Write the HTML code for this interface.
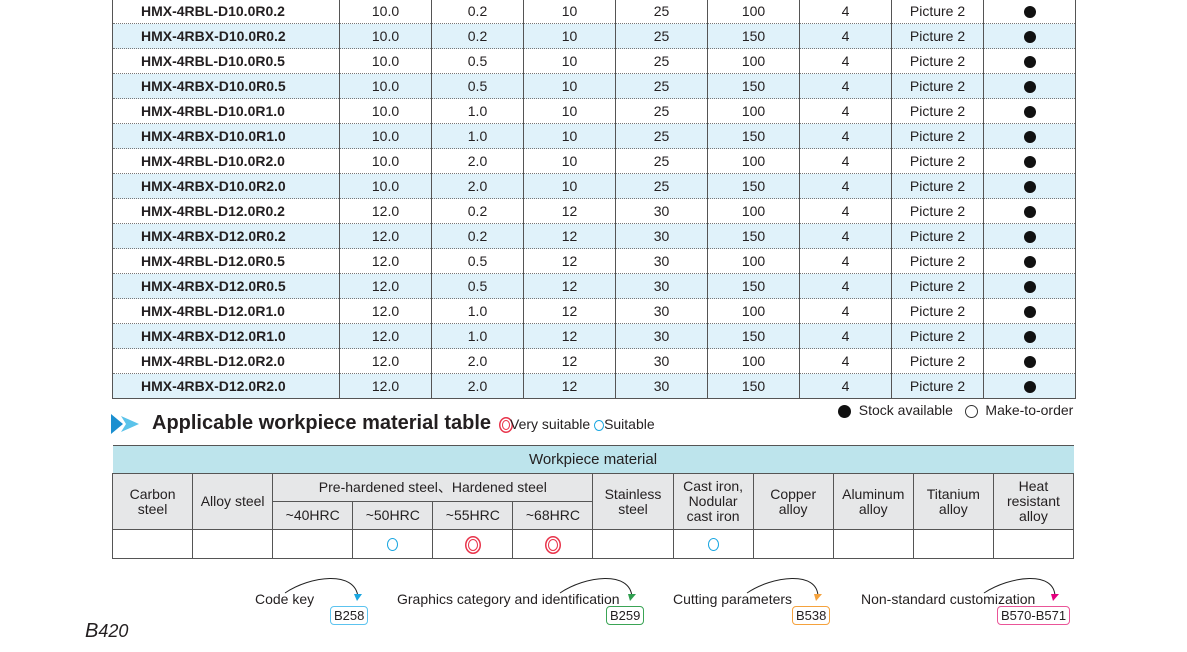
<!DOCTYPE html>
<html><head><meta charset="utf-8"><style>
body{margin:0;width:1187px;height:652px;background:#fff;position:relative;overflow:hidden;font-family:"Liberation Sans",Arial,sans-serif;color:#231f20}
.t{position:absolute;left:112px;top:-1px;border-collapse:collapse;font-size:14px}
.t td{height:24px;padding:0;text-align:center;border-left:1.5px solid #555;border-right:1.5px solid #555;border-bottom:1.5px dotted #777;line-height:24px}
.t tr:nth-child(even) td{background:#e0f2fa}
.t tr:last-child td{border-bottom:1.5px solid #555}
.t td:first-child{font-weight:bold;text-align:left;padding-left:28px;width:198px}
.dot{display:inline-block;width:12px;height:12px;border-radius:50%;background:#111;vertical-align:middle}
.w{position:absolute;left:112px;top:445px;border-collapse:collapse;font-size:14px;table-layout:fixed;width:962px}
.w td{border:1.5px solid #555;text-align:center;padding:0;line-height:15px}
.w .h td{background:#bde4ec;height:27px;border-left:none;border-right:none;font-size:15px}
.w .g td{background:#e6e7e8}
.c{display:inline-block;width:9px;height:11px;border:1.5px solid #1aa6e0;border-radius:50%;vertical-align:middle}
.cc{display:inline-block;width:8px;height:10px;border:1.5px solid #e8334a;border-radius:50%;vertical-align:middle;box-shadow:0 0 0 1.5px #fff,0 0 0 3px #e8334a}
.ab{position:absolute;font-size:14px}
.box{position:absolute;font-size:13px;border:1.5px solid;border-radius:4px;padding:0 3px;height:17px;line-height:17px;top:606px}
</style></head><body>
<table class="t">
<colgroup><col style="width:226px"><col style="width:92px"><col style="width:92px"><col style="width:92px"><col style="width:92px"><col style="width:92px"><col style="width:92px"><col style="width:92px"><col style="width:92px"></colgroup>
<tr><td>HMX-4RBL-D10.0R0.2</td><td>10.0</td><td>0.2</td><td>10</td><td>25</td><td>100</td><td>4</td><td>Picture 2</td><td><span class="dot"></span></td></tr>
<tr><td>HMX-4RBX-D10.0R0.2</td><td>10.0</td><td>0.2</td><td>10</td><td>25</td><td>150</td><td>4</td><td>Picture 2</td><td><span class="dot"></span></td></tr>
<tr><td>HMX-4RBL-D10.0R0.5</td><td>10.0</td><td>0.5</td><td>10</td><td>25</td><td>100</td><td>4</td><td>Picture 2</td><td><span class="dot"></span></td></tr>
<tr><td>HMX-4RBX-D10.0R0.5</td><td>10.0</td><td>0.5</td><td>10</td><td>25</td><td>150</td><td>4</td><td>Picture 2</td><td><span class="dot"></span></td></tr>
<tr><td>HMX-4RBL-D10.0R1.0</td><td>10.0</td><td>1.0</td><td>10</td><td>25</td><td>100</td><td>4</td><td>Picture 2</td><td><span class="dot"></span></td></tr>
<tr><td>HMX-4RBX-D10.0R1.0</td><td>10.0</td><td>1.0</td><td>10</td><td>25</td><td>150</td><td>4</td><td>Picture 2</td><td><span class="dot"></span></td></tr>
<tr><td>HMX-4RBL-D10.0R2.0</td><td>10.0</td><td>2.0</td><td>10</td><td>25</td><td>100</td><td>4</td><td>Picture 2</td><td><span class="dot"></span></td></tr>
<tr><td>HMX-4RBX-D10.0R2.0</td><td>10.0</td><td>2.0</td><td>10</td><td>25</td><td>150</td><td>4</td><td>Picture 2</td><td><span class="dot"></span></td></tr>
<tr><td>HMX-4RBL-D12.0R0.2</td><td>12.0</td><td>0.2</td><td>12</td><td>30</td><td>100</td><td>4</td><td>Picture 2</td><td><span class="dot"></span></td></tr>
<tr><td>HMX-4RBX-D12.0R0.2</td><td>12.0</td><td>0.2</td><td>12</td><td>30</td><td>150</td><td>4</td><td>Picture 2</td><td><span class="dot"></span></td></tr>
<tr><td>HMX-4RBL-D12.0R0.5</td><td>12.0</td><td>0.5</td><td>12</td><td>30</td><td>100</td><td>4</td><td>Picture 2</td><td><span class="dot"></span></td></tr>
<tr><td>HMX-4RBX-D12.0R0.5</td><td>12.0</td><td>0.5</td><td>12</td><td>30</td><td>150</td><td>4</td><td>Picture 2</td><td><span class="dot"></span></td></tr>
<tr><td>HMX-4RBL-D12.0R1.0</td><td>12.0</td><td>1.0</td><td>12</td><td>30</td><td>100</td><td>4</td><td>Picture 2</td><td><span class="dot"></span></td></tr>
<tr><td>HMX-4RBX-D12.0R1.0</td><td>12.0</td><td>1.0</td><td>12</td><td>30</td><td>150</td><td>4</td><td>Picture 2</td><td><span class="dot"></span></td></tr>
<tr><td>HMX-4RBL-D12.0R2.0</td><td>12.0</td><td>2.0</td><td>12</td><td>30</td><td>100</td><td>4</td><td>Picture 2</td><td><span class="dot"></span></td></tr>
<tr><td>HMX-4RBX-D12.0R2.0</td><td>12.0</td><td>2.0</td><td>12</td><td>30</td><td>150</td><td>4</td><td>Picture 2</td><td><span class="dot"></span></td></tr>
</table>
<div class="ab" style="left:838px;top:402px"><span class="dot" style="width:13px;height:13px"></span>&nbsp; Stock available &nbsp;&nbsp;<span class="dot" style="width:11px;height:11px;background:#fff;border:1px solid #333"></span>&nbsp; Make-to-order</div>
<svg style="position:absolute;left:111px;top:414px" width="30" height="20"><polygon points="0,0 12,10 0,20" fill="#1b8fd0"/><polygon points="10,2 28,10 10,18 15,10" fill="#5bc3ea"/></svg>
<div class="ab" style="left:152px;top:412px;font-size:20px;font-weight:bold">Applicable workpiece material table</div>
<div class="ab" style="left:502px;top:416px"><span class="cc" style="width:6px;height:8px"></span>Very suitable <span class="c" style="width:8px;height:9px"></span>Suitable</div>
<table class="w">
<tr class="h"><td colspan="12">Workpiece material</td></tr>
<tr class="g"><td rowspan="2" style="height:55px">Carbon<br>steel</td><td rowspan="2">Alloy steel</td><td colspan="4" style="height:27px">Pre-hardened steel、Hardened steel</td><td rowspan="2">Stainless<br>steel</td><td rowspan="2">Cast iron,<br>Nodular<br>cast iron</td><td rowspan="2">Copper<br>alloy</td><td rowspan="2">Aluminum<br>alloy</td><td rowspan="2">Titanium<br>alloy</td><td rowspan="2">Heat<br>resistant<br>alloy</td></tr>
<tr class="g"><td style="height:27px">~40HRC</td><td>~50HRC</td><td>~55HRC</td><td>~68HRC</td></tr>
<tr><td style="height:28px"></td><td></td><td></td><td><span class="c"></span></td><td><span class="cc"></span></td><td><span class="cc"></span></td><td></td><td><span class="c"></span></td><td></td><td></td><td></td><td></td></tr>
</table>
<svg style="position:absolute;left:0;top:570px" width="1187" height="40" fill="none" stroke="#222" stroke-width="1">
<path d="M285,23 C310,6 355,0 358,27"/><path d="M560,23 C585,6 630,0 632,27"/><path d="M747,23 C772,6 818,0 818,27"/><path d="M984,23 C1010,6 1055,0 1055,27"/>
<polygon points="354,24 362,24 357,31" fill="#1aa6e0" stroke="none"/>
<polygon points="628,24 636,24 630,31" fill="#2f9e4f" stroke="none"/>
<polygon points="814,24 822,24 816,31" fill="#f5a23d" stroke="none"/>
<polygon points="1051,24 1059,24 1053,31" fill="#e4007f" stroke="none"/>
</svg>
<div class="ab" style="left:255px;top:591px">Code key</div>
<div class="ab" style="left:397px;top:591px">Graphics category and identification</div>
<div class="ab" style="left:673px;top:591px">Cutting parameters</div>
<div class="ab" style="left:861px;top:591px">Non-standard customization</div>
<div class="box" style="left:330px;border-color:#5cc3ef">B258</div>
<div class="box" style="left:606px;border-color:#3aa455">B259</div>
<div class="box" style="left:792px;border-color:#f5a23d">B538</div>
<div class="box" style="left:997px;border-color:#ea5598">B570-B571</div>
<div class="ab" style="left:85px;top:620px;font-size:20px;font-style:italic">B<span style="font-size:18px">420</span></div>
</body></html>
